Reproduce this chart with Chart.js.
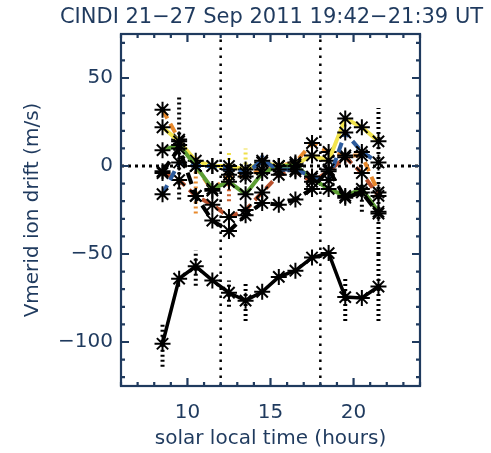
<!DOCTYPE html>
<html>
<head>
<meta charset="utf-8">
<script src="https://cdn.jsdelivr.net/npm/chart.js@4"></script>
<style>
  body { margin: 0; background: #fff; }
  canvas { display: block; }
</style>
</head>
<body>
<canvas id="driftChart" width="491" height="453"></canvas>
<script>
// hourly bins of solar local time
const hours = [8.5, 9.5, 10.5, 11.5, 12.5, 13.5, 14.5, 15.5, 16.5, 17.5, 18.5, 19.5, 20.5, 21.5];

// lower solid curve and its error bars
const driftLow = [-101, -64, -57, -65, -72, -76.5, -71.5, -63, -59.5, -52, -49.5, -74.5, -75, -68.5];
const lowErrMin = [-114, null, -68, null, -80, -88, null, null, null, null, null, -88, null, -88];
const lowErrMax = [-90, null, -48, null, -65, -66, null, null, null, null, null, -63, null, -50];

// thick dashed black curve (mean of the days) and its error bars
const driftMean = [-3, 10, -17, -31, -37, -28, -21, -22, -19, -13, -2, -18, -15, -27];
const meanErrMin = [null, -19, null, null, null, null, null, null, null, null, null, null, -26, -50];
const meanErrMax = [null, 40, null, null, null, null, null, null, null, null, null, null, -10, 33];

// single days
const dayOrange = [32, 15, 0, -14, -5, -6, -2, 0, 2, 13, 8, 6, 6, -15];
const dayYellow = [22, 14, 3, 0, 0, -2, 2, 0, 1, 6, 3, 27, 22, 14];
const dayGreen = [9, 12, 0, -13, -9, -16, -4, 0, 0, -7, -13, -17, -13, -26];
const dayBlue = [-16, 2, 0, 0, -2, -4, 3, -2, -2, -6, -8, 19, 8, 2];
const dayRed = [-4, -8, -17, -22, -29, -25, -15, -5, -3, -9, -3, 5, -4, -17];

// a few coloured error bars of single days
const dayErrHours = [10.5, 12.5, 12.5, 13.5, 14.5];
const dayErrMin = [-27, -20, -8, -2, 2];
const dayErrMax = [5, -8, 8, 10, 6];
const dayErrColors = ["#e8892c", "#c9602e", "#efe04a", "#efe04a", "#2d5c9e"];

// reference lines
const refHours = [12, 18];
const xTickLabels = [10, 15, 20];
const yTickLabels = [-100, -50, 0, 50];

const navy = "#1f3a5e";
const font = { family: "DejaVu Sans", size: 20 };

function points(ys) {
  return hours.map((h, i) => ({ x: h, y: ys[i] }));
}

function curve(ys, color, width, dash) {
  return {
    data: points(ys),
    borderColor: color,
    borderWidth: width,
    borderDash: dash,
    pointStyle: "star",
    pointRadius: 8,
    pointBorderColor: "#000",
    pointBorderWidth: 2,
    pointBackgroundColor: color,
    tension: 0,
  };
}

function errorBar(x, lo, hi, color) {
  return {
    data: [{ x: x, y: lo }, { x: x, y: hi }],
    borderColor: color,
    borderWidth: 4,
    borderDash: [2, 3],
    pointRadius: 0,
  };
}

const datasets = [
  curve(driftLow, "#000", 3.5, []),
  curve(driftMean, "#000", 4, [12, 6]),
  curve(dayBlue, "#2d5c9e", 4, [10, 6]),
  curve(dayRed, "#b9502c", 4, [10, 6]),
  curve(dayGreen, "#5c9e34", 4, []),
  curve(dayYellow, "#f2e44e", 4, []),
  curve(dayOrange, "#e8892c", 4, [10, 6]),
];

hours.forEach((h, i) => {
  if (lowErrMin[i] !== null) datasets.push(errorBar(h, lowErrMin[i], lowErrMax[i], "#000"));
  if (meanErrMin[i] !== null) datasets.push(errorBar(h, meanErrMin[i], meanErrMax[i], "#000"));
});
dayErrHours.forEach((h, i) => {
  datasets.push(errorBar(h, dayErrMin[i], dayErrMax[i], dayErrColors[i]));
});

// dotted reference lines
refHours.forEach((h) => {
  datasets.push({
    data: [{ x: h, y: -125 }, { x: h, y: 75 }],
    borderColor: "#000",
    borderWidth: 2.5,
    borderDash: [2.5, 5.5],
    pointRadius: 0,
  });
});
datasets.push({
  data: [{ x: 6, y: 0 }, { x: 24, y: 0 }],
  borderColor: "#000",
  borderWidth: 3,
  borderDash: [3, 4],
  pointRadius: 0,
});

// box, inward ticks on all four sides and the title
const framePlugin = {
  id: "frame",
  afterDraw(chart) {
    const { ctx, chartArea: a, scales } = chart;
    const x = scales.x;
    const y = scales.y;
    ctx.save();
    ctx.strokeStyle = navy;
    ctx.lineWidth = 2.2;
    ctx.strokeRect(a.left, a.top, a.right - a.left, a.bottom - a.top);
    ctx.beginPath();
    for (let h = Math.ceil(x.min); h <= x.max; h++) {
      const px = x.getPixelForValue(h);
      const len = h % 5 === 0 ? 8 : 4;
      ctx.moveTo(px, a.bottom);
      ctx.lineTo(px, a.bottom - len);
      ctx.moveTo(px, a.top);
      ctx.lineTo(px, a.top + len);
    }
    for (let v = Math.ceil(y.min / 10) * 10; v <= y.max; v += 10) {
      const py = y.getPixelForValue(v);
      const len = v % 50 === 0 ? 8 : 4;
      ctx.moveTo(a.left, py);
      ctx.lineTo(a.left + len, py);
      ctx.moveTo(a.right, py);
      ctx.lineTo(a.right - len, py);
    }
    ctx.stroke();
    ctx.fillStyle = navy;
    ctx.font = '21px "DejaVu Sans"';
    ctx.textAlign = "center";
    ctx.textBaseline = "middle";
    ctx.fillText("CINDI 21\u221227 Sep 2011 19:42\u221221:39 UT", (a.left + a.right) / 2 + 1, 18);
    ctx.restore();
  },
};

const ctx = document.getElementById("driftChart").getContext("2d");
const driftChart = new Chart(ctx, {
  type: "line",
  data: { datasets: datasets },
  options: {
    responsive: false,
    animation: false,
    devicePixelRatio: 1,
    layout: { padding: { top: 34, right: 71, left: 0, bottom: 0 } },
    plugins: {
      legend: { display: false },
      tooltip: { enabled: false },
    },
    scales: {
      x: {
        type: "linear",
        min: 6,
        max: 24,
        grid: { display: false, drawTicks: false },
        border: { display: false },
        afterBuildTicks: (scale) => {
          scale.ticks = xTickLabels.map((v) => ({ value: v }));
        },
        afterFit: (scale) => {
          scale.height = 67;
        },
        ticks: { font: font, color: navy, padding: 15, maxRotation: 0 },
        title: {
          display: true,
          text: "solar local time (hours)",
          font: font,
          color: navy,
          padding: { top: 0, bottom: 2 },
        },
      },
      y: {
        type: "linear",
        min: -125,
        max: 75,
        grid: { display: false, drawTicks: false },
        border: { display: false },
        afterBuildTicks: (scale) => {
          scale.ticks = yTickLabels.map((v) => ({ value: v }));
        },
        afterFit: (scale) => {
          scale.width = 121;
        },
        ticks: {
          font: font,
          color: navy,
          padding: 8,
          callback: (v) => String(v).replace("-", "\u2212"),
        },
        title: {
          display: true,
          text: "Vmerid ion drift (m/s)",
          font: font,
          color: navy,
          padding: { top: 21, bottom: 0 },
        },
      },
    },
  },
  plugins: [framePlugin],
});
</script>
</body>
</html>
